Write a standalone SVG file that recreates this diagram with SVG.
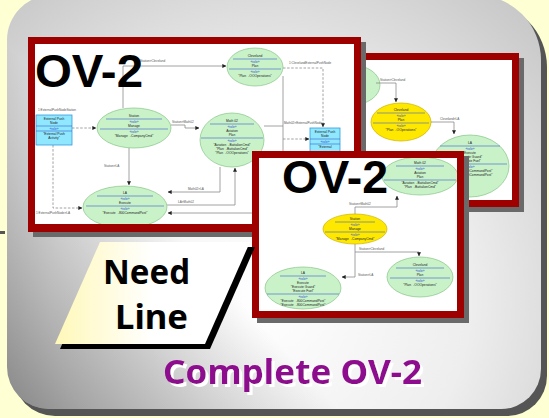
<svg xmlns="http://www.w3.org/2000/svg" width="549" height="418" viewBox="0 0 549 418">
<defs>
<radialGradient id="pg" gradientUnits="userSpaceOnUse" cx="260" cy="300" r="420">
<stop offset="0" stop-color="#ffffff"/><stop offset="0.5" stop-color="#eeeeee"/><stop offset="1" stop-color="#c2c2c2"/>
</radialGradient>
<linearGradient id="pd" gradientUnits="userSpaceOnUse" x1="0" y1="418" x2="190" y2="245">
<stop offset="0" stop-color="#000" stop-opacity="0.42"/><stop offset="1" stop-color="#000" stop-opacity="0"/>
</linearGradient>
<linearGradient id="ng" x1="0" y1="0" x2="1" y2="0">
<stop offset="0" stop-color="#fff8b8"/><stop offset="0.5" stop-color="#ffffff"/><stop offset="1" stop-color="#ffffff"/>
</linearGradient>
<filter id="ws" x="-5%" y="-20%" width="115%" height="150%">
<feDropShadow dx="3" dy="3" stdDeviation="0.3" flood-color="#ffffff" flood-opacity="1"/>
</filter>
<marker id="ah" viewBox="0 0 6 6" refX="5.5" refY="3" markerWidth="4" markerHeight="4" orient="auto" markerUnits="userSpaceOnUse"><path d="M0,0 L6,3 L0,6 Z" fill="#222"/></marker>
<clipPath id="c1"><rect x="35" y="44" width="319" height="180"/></clipPath>
<clipPath id="c2"><rect x="307" y="60" width="205" height="140"/></clipPath>
<clipPath id="c3"><rect x="259" y="158" width="198" height="153"/></clipPath>
<style>
.fr{fill:#9e0000}
.sh{fill:#6a6a6a}
.in{fill:#ffffff}
.el{fill:#c9f2c9;stroke:#86c486;stroke-width:0.7}
.ye{fill:#ffe800;stroke:#c8b000;stroke-width:0.7}
.bx{fill:#8fe8ff;stroke:#3399dd;stroke-width:0.8}
.sep{stroke:#3a5fcd;stroke-width:0.6}
.t{font-family:"Liberation Sans",Arial,sans-serif;font-size:3.3px;fill:#222;text-anchor:middle}
.r{fill:#2a4fd0}
.lb{font-family:"Liberation Sans",Arial,sans-serif;font-size:3.1px;fill:#555}
.ln{fill:none;stroke:#8a8a8a;stroke-width:0.8}
.da{stroke-dasharray:2.5 1.6}
.big{font-family:"Liberation Sans",Arial,sans-serif;font-weight:bold;font-size:47px;fill:#000}
.nl{font-family:"Noto Sans","DejaVu Sans",sans-serif;font-weight:bold;font-size:34px;fill:#000}
.co{font-family:"Noto Sans","DejaVu Sans",sans-serif;font-weight:bold;font-size:34px}
</style>
</defs>
<rect x="0" y="0" width="549" height="418" fill="#ffffd4"/>
<rect x="72" y="0" width="3" height="4" fill="#555"/>
<rect x="0" y="231" width="5" height="3" fill="#555"/>
<g id="panel">
<path d="M52,-5 H476 A65,65 0 0 1 541,60 V369 A40,40 0 0 1 501,409 H49 A42,42 0 0 1 7,367 V40 A45,45 0 0 1 52,-5 Z" fill="#555" transform="translate(6,7)"/>
<path d="M52,-5 H476 A65,65 0 0 1 541,60 V369 A40,40 0 0 1 501,409 H49 A42,42 0 0 1 7,367 V40 A45,45 0 0 1 52,-5 Z" fill="url(#pg)"/>
<path d="M52,-5 H476 A65,65 0 0 1 541,60 V369 A40,40 0 0 1 501,409 H49 A42,42 0 0 1 7,367 V40 A45,45 0 0 1 52,-5 Z" fill="url(#pd)"/>
</g>

<g id="frame2">
<rect class="sh" x="305" y="58" width="219" height="154"/>
<rect class="fr" x="300" y="53" width="219" height="154"/>
<rect class="in" x="307" y="60" width="205" height="140"/>
<g clip-path="url(#c2)">
<ellipse class="el" cx="352" cy="85" rx="28" ry="20"/>
<path class="ln" d="M376,83 H396 V102" marker-end="url(#ah)"/>
<text class="lb" x="380" y="81">Station&gt;Cleveland</text>
<g id="f2-cleveland">
<ellipse class="ye" cx="401" cy="122" rx="30" ry="19"/>
<text class="t" x="401" y="111">Cleveland</text>
<line class="sep" x1="377" y1="113" x2="425" y2="113"/>
<text class="t r" x="401" y="116.5">«role»</text>
<text class="t" x="401" y="121">Plan</text>
<line class="sep" x1="373" y1="123" x2="429" y2="123"/>
<text class="t r" x="401" y="126.5">«role»</text>
<text class="t" x="401" y="131">"Plan→OOperations"</text>
</g>
<path class="ln" d="M431,122 H454 V134" marker-end="url(#ah)"/>
<text class="lb" x="440" y="120">Cleveland&gt;LA</text>
<g id="f2-la">
<ellipse class="el" cx="470" cy="166" rx="39" ry="31"/>
<text class="t" x="470" y="144">LA</text>
<line class="sep" x1="440" y1="146" x2="500" y2="146"/>
<text class="t r" x="470" y="149.5">«role»</text>
<text class="t" x="470" y="154">Execute</text>
<text class="t" x="470" y="158">"Execute Guard"</text>
<text class="t" x="470" y="162">"Execute Fuel"</text>
<line class="sep" x1="433" y1="164" x2="507" y2="164"/>
<text class="t r" x="470" y="167.5">«role»</text>
<text class="t" x="470" y="172">"Execute→800CommandPost"</text>
<text class="t" x="470" y="176">"Execute→800CommandPost"</text>
</g>
</g>
</g>

<g id="frame1">
<rect class="sh" x="33" y="42" width="333" height="195"/>
<rect class="fr" x="28" y="37" width="333" height="195"/>
<rect class="in" x="35" y="44" width="319" height="180"/>
<g clip-path="url(#c1)">
<g id="connectors1">
<path class="ln" d="M123,108 V66 H226" marker-end="url(#ah)"/>
<text class="lb" x="140" y="62">Station&gt;Cleveland</text>
<path class="ln da" d="M72,128 H96" marker-end="url(#ah)"/>
<text class="lb" x="38" y="111">1:ExternalPushNodeStation</text>
<path class="ln" d="M171,125 H185 V128 H199" marker-end="url(#ah)"/>
<text class="lb" x="172" y="123">Station&gt;Math02</text>
<path class="ln" d="M129,148 V185" marker-end="url(#ah)"/>
<text class="lb" x="104" y="167">Station&gt;LA</text>
<path class="ln da" d="M53,145 V208 H82" marker-end="url(#ah)"/>
<text class="lb" x="36" y="214">1:ExternalPushNode&gt;LA</text>
<path class="ln" d="M220,167 V192 H168" marker-end="url(#ah)"/>
<text class="lb" x="188" y="190">Math02&gt;LA</text>
<path class="ln" d="M167,205 H235 V168" marker-end="url(#ah)"/>
<text class="lb" x="178" y="203">LA&gt;Math02</text>
<path class="ln" d="M254,213 H168" marker-end="url(#ah)"/>
<path class="ln" d="M264,126 H283"/>
<path class="ln da" d="M283,139 H309" marker-end="url(#ah)"/>
<text class="lb" x="284" y="124">Math02&gt;ExternalPushNode</text>
<path class="ln" d="M283,76 V151"/>
<path class="ln da" d="M283,68 H323 V127" marker-end="url(#ah)"/>
<text class="lb" x="289" y="64">1:ClevelandExternalPushNode</text>
</g>
<g id="f1-cleveland">
<ellipse class="el" cx="255" cy="67" rx="28" ry="19"/>
<text class="t" x="255" y="57">Cleveland</text>
<line class="sep" x1="233" y1="59" x2="277" y2="59"/>
<text class="t r" x="255" y="62.5">«role»</text>
<text class="t" x="255" y="67">Plan</text>
<line class="sep" x1="229" y1="69" x2="281" y2="69"/>
<text class="t r" x="255" y="72.5">«role»</text>
<text class="t" x="255" y="77">"Plan→OOOperations"</text>
</g>
<g id="f1-box1">
<rect class="bx" x="36" y="115" width="36" height="30"/>
<text class="t" x="54" y="120">External Push</text>
<text class="t" x="54" y="124">Node</text>
<line class="sep" x1="36" y1="126" x2="72" y2="126"/>
<text class="t r" x="54" y="129.5">«role»</text>
<line class="sep" x1="36" y1="131" x2="72" y2="131"/>
<text class="t" x="54" y="135">"External Push</text>
<text class="t" x="54" y="139">Activity"</text>
</g>
<g id="f1-station">
<ellipse class="el" cx="134" cy="128" rx="37" ry="20"/>
<text class="t" x="134" y="117">Station</text>
<line class="sep" x1="106" y1="119" x2="162" y2="119"/>
<text class="t r" x="134" y="122.5">«role»</text>
<text class="t" x="134" y="127">Manage</text>
<line class="sep" x1="100" y1="129" x2="168" y2="129"/>
<text class="t r" x="134" y="132.5">«role»</text>
<text class="t" x="134" y="137">"Manage→CompanyCmd"</text>
</g>
<g id="f1-math02">
<ellipse class="el" cx="232" cy="140" rx="32" ry="27"/>
<text class="t" x="232" y="122">Math 02</text>
<line class="sep" x1="210" y1="124" x2="254" y2="124"/>
<text class="t r" x="232" y="127.5">«role»</text>
<text class="t" x="232" y="132">Aviation</text>
<text class="t" x="232" y="136">Plan</text>
<line class="sep" x1="201" y1="138" x2="263" y2="138"/>
<text class="t r" x="232" y="141.5">«role»</text>
<text class="t" x="232" y="146">"Aviation→BattalionCmd"</text>
<text class="t" x="232" y="150">"Plan→BattalionCmd"</text>
<text class="t" x="232" y="154">"Plan→OOOperations"</text>
</g>
<g id="f1-la">
<ellipse class="el" cx="125" cy="207" rx="42" ry="21"/>
<text class="t" x="125" y="194">LA</text>
<line class="sep" x1="97" y1="196" x2="153" y2="196"/>
<text class="t r" x="125" y="199.5">«role»</text>
<text class="t" x="125" y="204">Execute</text>
<line class="sep" x1="86" y1="206" x2="164" y2="206"/>
<text class="t r" x="125" y="209.5">«role»</text>
<text class="t" x="125" y="214">"Execute→800CommandPost"</text>
</g>
<g id="f1-box2">
<rect class="bx" x="310" y="128" width="30" height="30"/>
<text class="t" x="325" y="133">External Push</text>
<text class="t" x="325" y="137">Node</text>
<line class="sep" x1="310" y1="139" x2="340" y2="139"/>
<text class="t r" x="325" y="142.5">«role»</text>
<line class="sep" x1="310" y1="144" x2="340" y2="144"/>
<text class="t" x="325" y="148">"External</text>
</g>
</g>
<text class="big" x="35" y="87" textLength="108" lengthAdjust="spacingAndGlyphs">OV-2</text>
</g>

<g id="frame3">
<rect class="sh" x="257" y="156" width="212" height="167"/>
<rect class="fr" x="252" y="151" width="212" height="167"/>
<rect class="in" x="259" y="158" width="198" height="153"/>
<g clip-path="url(#c3)">
<g id="connectors3">
<path class="ln" d="M355,214 V207 H397 V196" marker-end="url(#ah)"/>
<text class="lb" x="349" y="205">Station&gt;Math02</text>
<path class="ln" d="M355,244 V277 H342" marker-end="url(#ah)"/>
<text class="lb" x="358" y="276">Station&gt;LA</text>
<path class="ln" d="M355,252 H419 V256" marker-end="url(#ah)"/>
<text class="lb" x="359" y="250">Station&gt;Cleveland</text>
</g>
<g id="f3-math02">
<ellipse class="el" cx="420" cy="176" rx="38" ry="19"/>
<text class="t" x="420" y="164">Math 02</text>
<line class="sep" x1="396" y1="166" x2="444" y2="166"/>
<text class="t r" x="420" y="169.5">«role»</text>
<text class="t" x="420" y="174">Aviation</text>
<text class="t" x="420" y="178">Plan</text>
<line class="sep" x1="384" y1="180" x2="456" y2="180"/>
<text class="t" x="420" y="184">"Aviation→BattalionCmd"</text>
<text class="t" x="420" y="188">"Plan→BattalionCmd"</text>
</g>
<g id="f3-station">
<ellipse class="ye" cx="355" cy="229" rx="32" ry="15"/>
<text class="t" x="355" y="220">Station</text>
<line class="sep" x1="335" y1="222" x2="375" y2="222"/>
<text class="t r" x="355" y="225.5">«role»</text>
<text class="t" x="355" y="230">Manage</text>
<line class="sep" x1="325" y1="232" x2="385" y2="232"/>
<text class="t r" x="355" y="235.5">«role»</text>
<text class="t" x="355" y="240">"Manage→CompanyCmd"</text>
</g>
<g id="f3-la">
<ellipse class="el" cx="303" cy="288" rx="38" ry="21"/>
<text class="t" x="303" y="274">LA</text>
<line class="sep" x1="280" y1="276" x2="326" y2="276"/>
<text class="t r" x="303" y="279.5">«role»</text>
<text class="t" x="303" y="284">Execute</text>
<text class="t" x="303" y="288">"Execute Guard"</text>
<text class="t" x="303" y="292">"Execute Fuel"</text>
<line class="sep" x1="267" y1="294" x2="339" y2="294"/>
<text class="t r" x="303" y="297.5">«role»</text>
<text class="t" x="303" y="302">"Execute→800CommandPost"</text>
<text class="t" x="303" y="306">"Execute→800CommandPost"</text>
</g>
<g id="f3-cleveland">
<ellipse class="el" cx="420" cy="277" rx="33" ry="20"/>
<text class="t" x="420" y="266">Cleveland</text>
<line class="sep" x1="396" y1="268" x2="444" y2="268"/>
<text class="t r" x="420" y="271.5">«role»</text>
<text class="t" x="420" y="276">Plan</text>
<line class="sep" x1="390" y1="278" x2="450" y2="278"/>
<text class="t r" x="420" y="281.5">«role»</text>
<text class="t" x="420" y="286">"Plan→OOOperations"</text>
</g>
</g>
<text class="big" x="282" y="193" textLength="106" lengthAdjust="spacingAndGlyphs">OV-2</text>
</g>

<g id="needline">
<polygon points="105,247 255,247 210,349 60,349" fill="#000"/>
<polygon points="100,242 250,242 205,344 55,344" fill="url(#ng)"/>
<text class="nl" x="103" y="284" textLength="87" lengthAdjust="spacingAndGlyphs">Need</text>
<text class="nl" x="115" y="329" textLength="73" lengthAdjust="spacingAndGlyphs">Line</text>
</g>

<g id="title">
<text class="co" x="163" y="384" fill="#8e0a8e" filter="url(#ws)" textLength="259" lengthAdjust="spacingAndGlyphs">Complete OV-2</text>
</g>
</svg>
